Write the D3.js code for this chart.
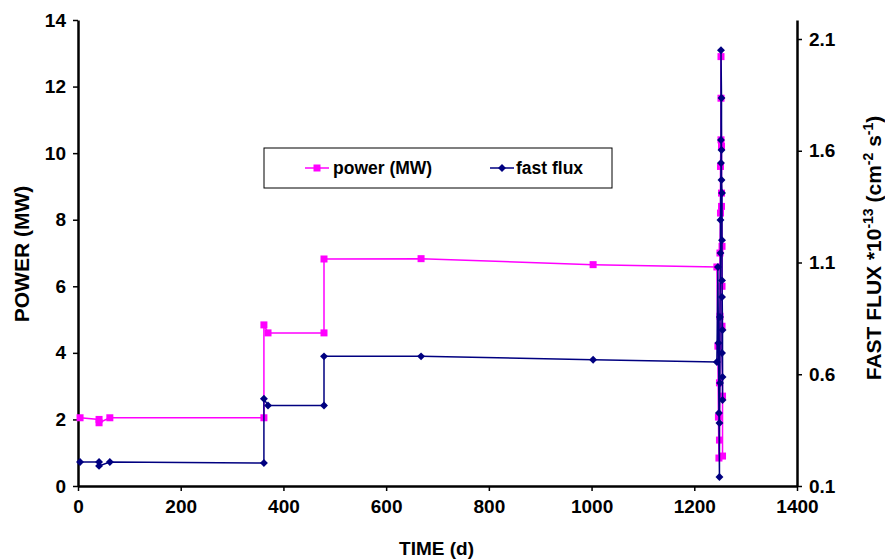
<!DOCTYPE html>
<html>
<head>
<meta charset="utf-8">
<script src="https://cdn.jsdelivr.net/npm/d3@7/dist/d3.min.js"></script>
<style>
  body { margin: 0; background: #fff; }
  svg text { font-family: "Liberation Sans", Arial, sans-serif; font-weight: bold; fill: #000; }
</style>
</head>
<body>
<div id="chart"></div>
<script>
// power (MW) vs time (d)
const powerTime = [4, 41, 41, 62, 362, 362, 370, 479, 479, 668, 1003, 1244,
  1246, 1247, 1248, 1249, 1249, 1250, 1250, 1251, 1251, 1252, 1252, 1252, 1253, 1253, 1253, 1254, 1254, 1254, 1255, 1255];
const powerValues = [2.05, 2.0, 1.9, 2.05, 2.05, 4.84, 4.6, 4.6, 6.82, 6.83, 6.65, 6.58,
  4.2, 2.07, 0.84, 1.38, 3.1, 5.1, 7.0, 8.2, 9.6, 10.4, 12.9, 11.65, 10.2, 8.8, 8.4, 7.2, 6.0, 4.8, 2.7, 0.9];

// fast flux *1e-13 vs time (d)
const fluxTime = [4, 41, 41, 62, 362, 362, 370, 479, 479, 668, 1003, 1244,
  1246, 1247, 1248, 1249, 1249, 1250, 1250, 1251, 1251, 1252, 1252, 1252, 1253, 1253, 1253, 1254, 1254, 1254, 1255, 1255, 1255, 1254, 1254];
const fluxValues = [0.207, 0.207, 0.19, 0.207, 0.203, 0.49, 0.46, 0.46, 0.68, 0.68, 0.665, 0.655,
  1.08, 0.74, 0.427, 0.14, 0.382, 0.561, 0.856, 1.142, 1.29, 1.545, 1.648, 2.05, 1.836, 1.603, 1.469, 1.411, 1.2, 1.02, 0.798, 0.485, 0.588, 0.695, 0.946];

const xTicks = [0, 200, 400, 600, 800, 1000, 1200, 1400];
const powerTicks = [0, 2, 4, 6, 8, 10, 12, 14];
const fluxTicks = [0.1, 0.6, 1.1, 1.6, 2.1];

const width = 885;
const height = 560;
const margin = { top: 20, right: 88, bottom: 74, left: 78 };
const innerW = width - margin.left - margin.right;
const innerH = height - margin.top - margin.bottom;

const POWER_COLOR = '#ff00ff';
const FLUX_COLOR = '#000080';

const svg = d3.select('#chart').append('svg')
  .attr('width', width)
  .attr('height', height);

const g = svg.append('g').attr('transform', `translate(${margin.left},${margin.top})`);

const x = d3.scaleLinear().domain([0, 1400]).range([0, innerW]);
const yP = d3.scaleLinear().domain([0, 14]).range([innerH, 0]);
// right axis: 0.1 at bottom, 2.1 sits a bit below the top
const yF = d3.scaleLinear().domain([0.1, 0.1 + 2 * innerH / 447]).range([innerH, 0]);

const powerData = powerTime.map((t, i) => ({ t, v: powerValues[i] }));
const fluxData = fluxTime.map((t, i) => ({ t, v: fluxValues[i] }));

function styleAxis(sel) {
  sel.select('.domain').attr('stroke', '#000').attr('stroke-width', 2.5);
  sel.selectAll('.tick line').attr('stroke', '#000').attr('stroke-width', 1.5);
  sel.selectAll('.tick text').style('font-size', '19px');
}

g.append('g')
  .attr('transform', `translate(0,${innerH})`)
  .call(d3.axisBottom(x).tickValues(xTicks).tickFormat(d3.format('d')).tickSize(5).tickSizeOuter(0).tickPadding(9))
  .call(styleAxis);

g.append('g')
  .call(d3.axisLeft(yP).tickValues(powerTicks).tickSize(5).tickSizeOuter(0).tickPadding(7))
  .call(styleAxis);

g.append('g')
  .attr('transform', `translate(${innerW},0)`)
  .call(d3.axisRight(yF).tickValues(fluxTicks).tickFormat(d3.format('.1f')).tickSize(5).tickSizeOuter(0).tickPadding(7))
  .call(styleAxis);

// lines
const linePower = d3.line().x((d) => x(d.t)).y((d) => yP(d.v));
const lineFlux = d3.line().x((d) => x(d.t)).y((d) => yF(d.v));

g.append('path').datum(powerData)
  .attr('fill', 'none').attr('stroke', POWER_COLOR).attr('stroke-width', 1.5)
  .attr('d', linePower);

g.append('g').selectAll('rect').data(powerData).join('rect')
  .attr('x', (d) => x(d.t) - 3.5)
  .attr('y', (d) => yP(d.v) - 3.5)
  .attr('width', 7).attr('height', 7)
  .attr('fill', POWER_COLOR);

g.append('path').datum(fluxData)
  .attr('fill', 'none').attr('stroke', FLUX_COLOR).attr('stroke-width', 1.5)
  .attr('d', lineFlux);

const diamond = d3.symbol().type(d3.symbolDiamond2).size(40);
g.append('g').selectAll('path').data(fluxData).join('path')
  .attr('transform', (d) => `translate(${x(d.t)},${yF(d.v)})`)
  .attr('d', diamond)
  .attr('fill', FLUX_COLOR);

// legend
const leg = svg.append('g').attr('transform', 'translate(264,148)');
leg.append('rect').attr('width', 348).attr('height', 40)
  .attr('fill', '#fff').attr('stroke', '#000').attr('stroke-width', 1);
leg.append('line').attr('x1', 41).attr('x2', 65).attr('y1', 20).attr('y2', 20)
  .attr('stroke', POWER_COLOR).attr('stroke-width', 1.5);
leg.append('rect').attr('x', 49.5).attr('y', 16.5).attr('width', 7).attr('height', 7).attr('fill', POWER_COLOR);
leg.append('text').attr('x', 69).attr('y', 26).style('font-size', '17.5px').text('power (MW)');
leg.append('line').attr('x1', 226).attr('x2', 250).attr('y1', 20).attr('y2', 20)
  .attr('stroke', FLUX_COLOR).attr('stroke-width', 1.5);
leg.append('path').attr('transform', 'translate(238,20)').attr('d', diamond).attr('fill', FLUX_COLOR);
leg.append('text').attr('x', 252).attr('y', 26).style('font-size', '17.5px').text('fast flux');

// axis titles
svg.append('text')
  .attr('x', margin.left + innerW / 2 - 1)
  .attr('y', 555)
  .attr('text-anchor', 'middle')
  .style('font-size', '19px')
  .text('TIME (d)');

svg.append('text')
  .attr('transform', `translate(29,254) rotate(-90)`)
  .attr('text-anchor', 'middle')
  .style('font-size', '21px')
  .text('POWER (MW)');

const rt = svg.append('text')
  .attr('transform', `translate(881,248) rotate(-90)`)
  .attr('text-anchor', 'middle')
  .style('font-size', '21px');
rt.append('tspan').text('FAST FLUX *10');
rt.append('tspan').attr('dy', -8).style('font-size', '14px').text('-13');
rt.append('tspan').attr('dy', 8).text(' (cm');
rt.append('tspan').attr('dy', -8).style('font-size', '14px').text('-2');
rt.append('tspan').attr('dy', 8).text(' s');
rt.append('tspan').attr('dy', -8).style('font-size', '14px').text('-1');
rt.append('tspan').attr('dy', 8).text(')');
</script>
</body>
</html>
